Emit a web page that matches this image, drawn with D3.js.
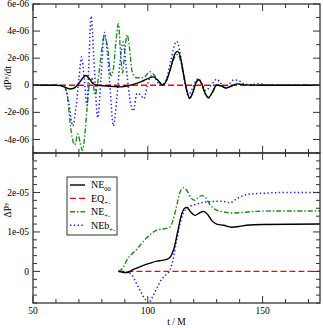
<!DOCTYPE html>
<html><head><meta charset="utf-8">
<script src="https://cdn.jsdelivr.net/npm/d3@7"></script>
<style>body{margin:0;background:#fff}svg{display:block}</style>
</head><body><svg id="c" width="323" height="328"></svg>
<script>
// ---------- data ----------
const seriesNames = ["NE", "EQ", "NE", "NEb"];
const seriesSubs  = ["00", "+-", "+-", "+-"];
const rateUnit = 1e-6;   // top panel values are in units of 1e-6
const momUnit  = 1e-5;   // bottom panel values are in units of 1e-5

// top panel: dP^y/dt  (t, value)
const rateNE00 = [[50,0],[60,0],[62,-0.03],[64,-0.15],[66,-0.27],[68,-0.2],[70,0.15],[71.5,0.5],[73,0.72],[74.5,0.5],[76,0.15],[78,0],[82,-0.05],[86,-0.1],[88,-0.12],[92,-0.02],[97,0.25],[102.4,0.62],[104.5,0.35],[106.5,0.02],[108,0.3],[110,1.3],[111.5,2.2],[113,2.5],[114.3,2.0],[115.5,0.9],[116.5,0],[117.3,-0.6],[118.2,-0.93],[119.5,-0.6],[121,0.2],[122.2,0.42],[123.5,0.1],[125,-0.6],[126.5,-0.9],[128,-0.55],[130,0.02],[132,-0.05],[134,-0.2],[136,-0.08],[139,0.1],[142,0.03],[150,0],[175,0]];
const rateEQ = [[50,0],[175,0]];
const rateNEpm = [[50,0],[60,0],[62,-0.05],[64,-0.2],[65,-0.8],[66,-2.5],[67,-3.8],[68.2,-4.4],[69.5,-3.6],[70.5,-4.2],[71.5,-4.8],[72.5,-3.8],[73.5,-1.8],[74.5,0],[75.8,0.5],[77,-0.7],[78.3,0.3],[79.5,2.0],[81,3.6],[82.5,2.8],[84,0.7],[85,1.2],[86,3.0],[87.2,4.55],[88.1,2.5],[89,0.9],[90,2.6],[91,3.74],[92,2.8],[93.2,1.0],[95,0.55],[98,0.55],[101,1.0],[103,0.7],[105,0.2],[106.5,0.02],[108,0.3],[110,1.3],[111.5,2.0],[113,2.27],[114.3,1.8],[115.5,0.8],[116.5,-0.05],[117.3,-0.7],[118.2,-1.0],[119.5,-0.6],[121,0.2],[122.2,0.4],[123.5,0.05],[125,-0.65],[126.5,-0.95],[128,-0.6],[130,0],[132,-0.05],[134,-0.2],[136,-0.1],[139,0.1],[142,0.03],[150,0],[175,0]];
const rateNEbpm = [[50,0],[62,0],[64,-0.2],[65.5,-1.2],[67.3,-3.0],[68.8,-1.5],[70,0.5],[71.2,2.1],[72.3,0.5],[73.5,-1.5],[74.3,1.5],[75.3,5.1],[76.5,2.0],[78.2,-2.4],[79.6,0.5],[81.1,3.9],[82.3,2.5],[83.5,0],[85,-3.0],[86.5,-1.0],[87.8,1.5],[89.3,3.2],[90.5,1.5],[92,-0.8],[93.7,-1.9],[95.3,-0.6],[96.8,-0.7],[98.3,-1.0],[99.8,0],[101,0.6],[102.5,0.75],[104,0.3],[105.8,0],[108,0.4],[110,1.8],[111.5,2.9],[112.6,3.25],[113.8,2.6],[115,1.4],[116.5,-0.1],[117.7,-0.7],[119,-0.4],[120.5,0.2],[122,0.5],[123.5,0.1],[125.3,-0.4],[127,-0.1],[128.5,0.2],[130,0.45],[131.5,0.2],[133.5,-0.1],[135.5,0.1],[137.5,0.4],[139.5,0.35],[142,0.1],[145,0.03],[148,0.12],[151,0.05],[155,0],[175,0]];

// bottom panel: Delta P^y  (t, value)
const momNE00 = [[87.2,0],[89,-0.02],[91,-0.03],[93.7,0.05],[97,0.13],[101,0.21],[104,0.26],[106,0.28],[108.5,0.31],[110,0.38],[111.5,0.6],[113,1.0],[114.5,1.4],[116,1.6],[117,1.62],[118.5,1.52],[120.5,1.42],[122.5,1.48],[124.2,1.52],[126,1.45],[128,1.28],[130,1.2],[133,1.17],[136.5,1.12],[140,1.14],[143,1.17],[150,1.19],[175,1.2]];
const momEQ = [[87.2,0],[175,0]];
const momNEpm = [[87.2,0],[89,0.08],[91,0.3],[95,0.55],[99,0.82],[102,0.98],[104,1.05],[107,1.08],[109.5,1.12],[111,1.3],[112.5,1.65],[114,2.0],[115.5,2.12],[117,2.05],[119,1.85],[120.6,1.8],[122,1.88],[123.5,1.92],[125,1.88],[127,1.7],[129.3,1.57],[132,1.52],[136.5,1.48],[141,1.49],[146,1.52],[155,1.53],[175,1.53]];
const momNEbpm = [[87.2,0],[91,-0.02],[93,-0.08],[95,-0.3],[97,-0.52],[99,-0.72],[100.3,-0.8],[102,-0.65],[104,-0.42],[106,-0.2],[108,-0.08],[109.7,0.04],[111,0.3],[112.6,0.8],[114,1.2],[115.5,1.48],[117,1.6],[118.4,1.65],[121,1.7],[124,1.75],[128,1.77],[131.5,1.78],[134,1.76],[135.8,1.74],[138.7,1.84],[141.5,1.92],[144.5,1.96],[150,1.98],[160,2.0],[175,2.0]];

const xTicks = [50,100,150];
const xTickLabels = ["50","100","150"];
const topTicks = [-4e-6,-2e-6,0,2e-6,4e-6,6e-6];
const topTickLabels = ["-4e-06","-2e-06","0","2e-06","4e-06","6e-06"];
const botTicks = [0,1e-5,2e-5];
const botTickLabels = ["0","1e-05","2e-05"];

// ---------- layout ----------
const svg = d3.select("#c");
const L = 33, R = 320, T0 = 4, T1 = 153, B0 = 153, B1 = 303;
const FONT = "'Liberation Serif','Times New Roman',serif";
const styles = [
  {color:"#000000", dash:null, w:1.4},
  {color:"#ff0000", dash:"6,3", w:1.3},
  {color:"#1e8c1e", dash:"5,2,1.5,2", w:1.4},
  {color:"#2020ff", dash:"1.4,2.4", w:1.5}
];

const x = d3.scaleLinear().domain([50,175]).range([L,R]);
const yT = d3.scaleLinear().domain([-5e-6,6e-6]).range([T1,T0]);
const yB = d3.scaleLinear().domain([-8e-6,3e-5]).range([B1,B0]);

const defs = svg.append("defs");
defs.append("clipPath").attr("id","clipT").append("rect").attr("x",L).attr("y",T0).attr("width",R-L).attr("height",T1-T0);
defs.append("clipPath").attr("id","clipB").append("rect").attr("x",L).attr("y",B0).attr("width",R-L).attr("height",B1-B0);

function drawSeries(data, y, unit, st, clip){
  const line = d3.line().x(d=>x(d[0])).y(d=>y(d[1]*unit)).curve(d3.curveMonotoneX);
  svg.append("path").attr("clip-path","url(#"+clip+")")
    .attr("d", line(data)).attr("fill","none")
    .attr("stroke", st.color).attr("stroke-width", st.w)
    .attr("stroke-dasharray", st.dash).attr("stroke-linejoin","round");
}
// draw order: red first, then green, blue, black
const topSets = [rateNE00, rateEQ, rateNEpm, rateNEbpm];
const botSets = [momNE00, momEQ, momNEpm, momNEbpm];
[1,2,3,0].forEach(i=>{
  drawSeries(topSets[i], yT, rateUnit, styles[i], "clipT");
  drawSeries(botSets[i], yB, momUnit, styles[i], "clipB");
});

// ---------- axes / frames ----------
const axCol = "#333";
function inwardAxes(y0, y1, yScale, major, minor){
  const g = svg.append("g");
  const xMinor = d3.range(50,176,10);
  // x ticks top & bottom
  xMinor.forEach(v=>{
    const len = xTicks.includes(v) ? 7 : 4;
    g.append("line").attr("x1",x(v)).attr("x2",x(v)).attr("y1",y1).attr("y2",y1-len).attr("stroke",axCol);
    g.append("line").attr("x1",x(v)).attr("x2",x(v)).attr("y1",y0).attr("y2",y0+len).attr("stroke",axCol);
  });
  minor.forEach(v=>{
    const isMajor = major.some(m=>Math.abs(m-v)<1e-12);
    const len = isMajor ? 7 : 4;
    g.append("line").attr("x1",L).attr("x2",L+len).attr("y1",yScale(v)).attr("y2",yScale(v)).attr("stroke",axCol);
    g.append("line").attr("x1",R).attr("x2",R-len).attr("y1",yScale(v)).attr("y2",yScale(v)).attr("stroke",axCol);
  });
  g.append("rect").attr("x",L).attr("y",y0).attr("width",R-L).attr("height",y1-y0)
    .attr("fill","none").attr("stroke",axCol).attr("stroke-width",1.3);
}
inwardAxes(T0, T1, yT, topTicks, d3.range(-5,6.01,1).map(v=>v*1e-6));
inwardAxes(B0, B1, yB, botTicks, d3.range(-8,30.01,2).map(v=>v*1e-6));

// tick labels
const lab = svg.append("g").attr("font-family",FONT).attr("font-size",9.5).attr("fill","#000");
topTicks.forEach((v,i)=>lab.append("text").attr("x",L-4).attr("y",yT(v)).attr("dy","0.33em").attr("text-anchor","end").text(topTickLabels[i]));
botTicks.forEach((v,i)=>lab.append("text").attr("x",L-4).attr("y",yB(v)).attr("dy","0.33em").attr("text-anchor","end").text(botTickLabels[i]));
xTicks.forEach((v,i)=>lab.append("text").attr("x",x(v)).attr("y",B1+11).attr("text-anchor","middle").text(xTickLabels[i]));

// axis titles
const t1 = svg.append("text").attr("font-family",FONT).attr("font-size",9.5)
  .attr("transform","translate(11,78) rotate(-90)").attr("text-anchor","middle");
t1.append("tspan").text("dP");
t1.append("tspan").attr("font-size",7).attr("dy",-3.5).text("y");
t1.append("tspan").attr("dy",3.5).text("/dt");
const t2 = svg.append("text").attr("font-family",FONT).attr("font-size",9.5)
  .attr("transform","translate(11,210) rotate(-90)").attr("text-anchor","middle");
t2.append("tspan").text("ΔP");
t2.append("tspan").attr("font-size",7).attr("dy",-3.5).text("y");
svg.append("text").attr("font-family",FONT).attr("font-size",9.5)
  .attr("x",(L+R)/2).attr("y",325).attr("text-anchor","middle").text("t / M");

// ---------- legend ----------
const lg = svg.append("g");
lg.append("rect").attr("x",67).attr("y",177).attr("width",50).attr("height",58)
  .attr("fill","#fff").attr("stroke",axCol).attr("stroke-width",1);
seriesNames.forEach((n,i)=>{
  const yy = 185 + i*13.4;
  const st = styles[i];
  lg.append("line").attr("x1",70).attr("x2",85).attr("y1",yy).attr("y2",yy)
    .attr("stroke",st.color).attr("stroke-width",st.w).attr("stroke-dasharray",st.dash);
  const tx = lg.append("text").attr("x",91).attr("y",yy).attr("dy","0.33em")
    .attr("font-family",FONT).attr("font-size",10);
  tx.append("tspan").text(n);
  tx.append("tspan").attr("font-size",6.5).attr("dy",3).text(seriesSubs[i]);
});
</script></body></html>
